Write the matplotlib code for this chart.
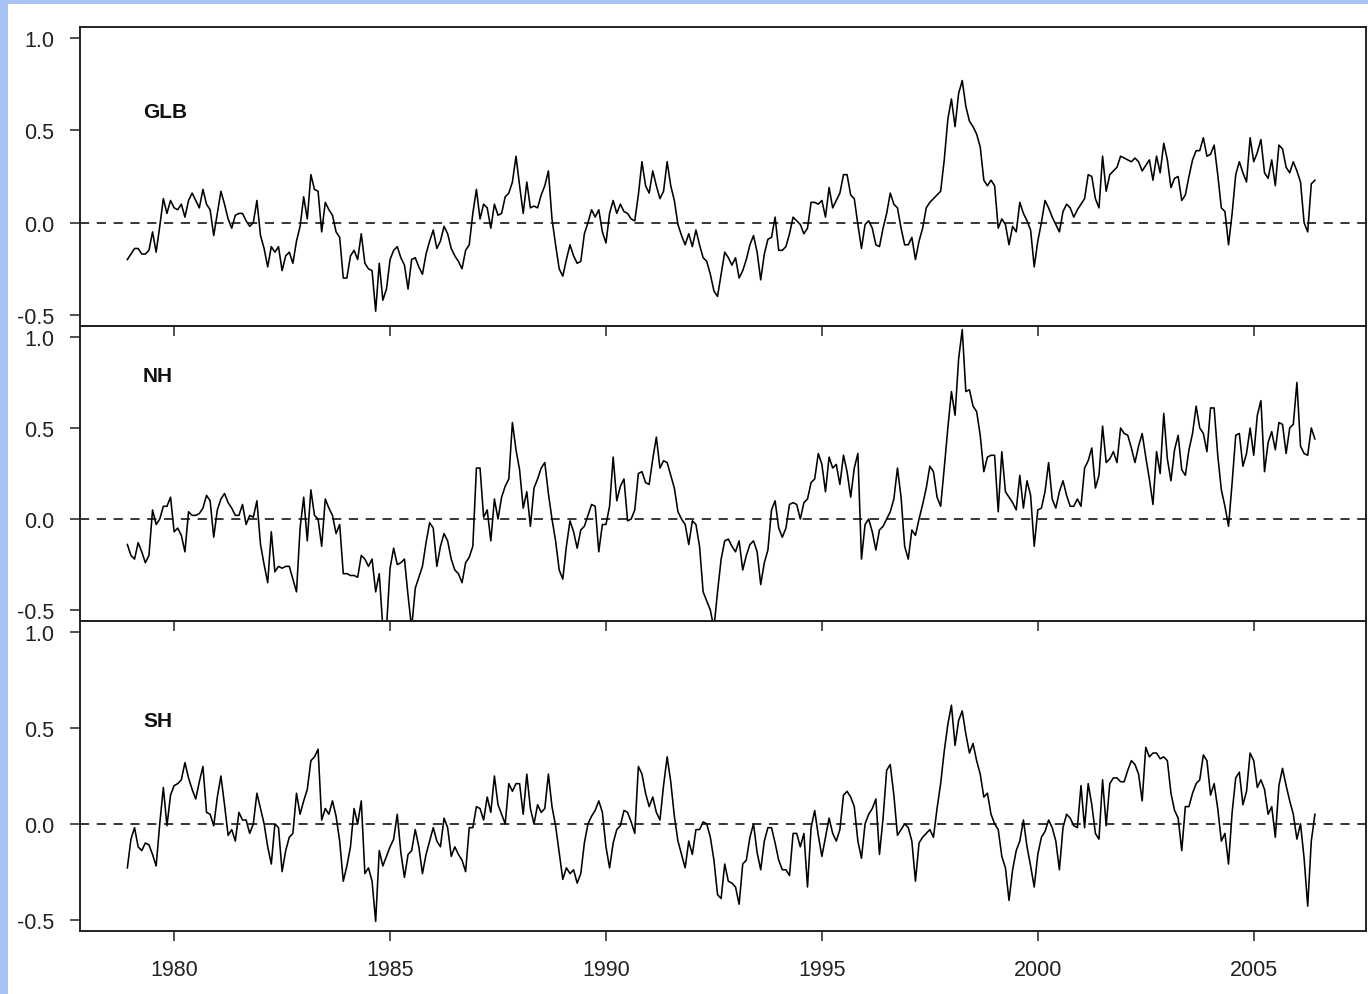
import numpy as np
import matplotlib
matplotlib.use('Agg')
import matplotlib.pyplot as plt
from matplotlib.patches import Rectangle
from matplotlib.ticker import FormatStrFormatter

plt.rcParams['font.family'] = ['Liberation Sans', 'DejaVu Sans']
plt.rcParams['axes.unicode_minus'] = False

# monthly anomalies, first value = Dec 1978
start = 1978 + 11 / 12.0

glb = [-0.20,
       -0.17, -0.14, -0.14, -0.17, -0.17, -0.15, -0.05, -0.16, -0.02, 0.13, 0.05, 0.12,
       0.08, 0.07, 0.10, 0.03, 0.12, 0.16, 0.12, 0.08, 0.18, 0.10, 0.07, -0.07,
       0.05, 0.17, 0.10, 0.02, -0.03, 0.04, 0.05, 0.05, 0.01, -0.02, 0.00, 0.12,
       -0.07, -0.14, -0.24, -0.13, -0.16, -0.13, -0.26, -0.18, -0.16, -0.22, -0.10, -0.02,
       0.14, 0.02, 0.26, 0.18, 0.17, -0.05, 0.11, 0.07, 0.04, -0.05, -0.08, -0.30,
       -0.30, -0.18, -0.15, -0.20, -0.06, -0.22, -0.25, -0.26, -0.48, -0.22, -0.42, -0.36,
       -0.20, -0.15, -0.13, -0.19, -0.23, -0.36, -0.20, -0.19, -0.24, -0.28, -0.17, -0.10,
       -0.04, -0.14, -0.10, -0.02, -0.06, -0.14, -0.18, -0.21, -0.25, -0.15, -0.12, 0.05,
       0.18, 0.02, 0.10, 0.08, -0.03, 0.10, 0.04, 0.05, 0.14, 0.16, 0.22, 0.36,
       0.20, 0.05, 0.22, 0.08, 0.09, 0.08, 0.15, 0.20, 0.28, 0.02, -0.12, -0.25,
       -0.29, -0.20, -0.12, -0.18, -0.22, -0.21, -0.06, 0.00, 0.07, 0.03, 0.07, -0.05,
       -0.11, 0.05, 0.12, 0.05, 0.10, 0.06, 0.05, 0.02, 0.01, 0.15, 0.33, 0.20,
       0.16, 0.28, 0.20, 0.13, 0.17, 0.33, 0.20, 0.12, -0.01, -0.07, -0.12, -0.06,
       -0.13, -0.04, -0.12, -0.19, -0.21, -0.28, -0.37, -0.40, -0.28, -0.16, -0.19, -0.23,
       -0.19, -0.30, -0.26, -0.20, -0.12, -0.07, -0.16, -0.31, -0.17, -0.09, -0.08, 0.03,
       -0.15, -0.15, -0.13, -0.06, 0.03, 0.01, -0.01, -0.06, -0.03, 0.11, 0.11, 0.10,
       0.12, 0.03, 0.19, 0.08, 0.12, 0.16, 0.26, 0.26, 0.15, 0.13, -0.01, -0.14,
       -0.01, 0.01, -0.03, -0.12, -0.13, -0.03, 0.05, 0.16, 0.10, 0.08, -0.03, -0.12,
       -0.12, -0.08, -0.20, -0.10, -0.03, 0.08, 0.11, 0.13, 0.15, 0.17, 0.34, 0.56,
       0.67, 0.52, 0.70, 0.77, 0.63, 0.55, 0.52, 0.48, 0.41, 0.23, 0.20, 0.23,
       0.20, -0.03, 0.02, -0.01, -0.12, -0.02, -0.05, 0.11, 0.05, 0.01, -0.04, -0.24,
       -0.10, 0.00, 0.12, 0.08, 0.03, -0.01, -0.05, 0.06, 0.10, 0.08, 0.03, 0.07,
       0.10, 0.13, 0.26, 0.25, 0.13, 0.08, 0.36, 0.17, 0.26, 0.28, 0.30, 0.36,
       0.35, 0.34, 0.33, 0.35, 0.33, 0.28, 0.31, 0.34, 0.23, 0.36, 0.27, 0.43,
       0.34, 0.19, 0.24, 0.25, 0.12, 0.15, 0.25, 0.34, 0.39, 0.39, 0.46, 0.36,
       0.37, 0.42, 0.26, 0.08, 0.06, -0.12, 0.05, 0.26, 0.33, 0.27, 0.22, 0.46,
       0.33, 0.38, 0.45, 0.27, 0.24, 0.34, 0.20, 0.42, 0.40, 0.30, 0.27, 0.33,
       0.28, 0.22, 0.00, -0.05, 0.21, 0.23]

nh = [-0.14,
      -0.20, -0.22, -0.13, -0.18, -0.24, -0.20, 0.05, -0.03, 0.00, 0.07, 0.07, 0.12,
      -0.07, -0.05, -0.09, -0.18, 0.04, 0.02, 0.02, 0.03, 0.06, 0.13, 0.10, -0.10,
      0.05, 0.11, 0.14, 0.09, 0.06, 0.02, 0.02, 0.08, -0.03, 0.02, 0.01, 0.10,
      -0.14, -0.25, -0.35, -0.07, -0.29, -0.26, -0.27, -0.26, -0.26, -0.33, -0.40, -0.05,
      0.12, -0.12, 0.16, 0.02, 0.00, -0.15, 0.11, 0.06, 0.02, -0.08, -0.03, -0.30,
      -0.30, -0.31, -0.31, -0.32, -0.20, -0.22, -0.26, -0.22, -0.40, -0.30, -0.60, -0.60,
      -0.27, -0.16, -0.25, -0.24, -0.22, -0.42, -0.60, -0.38, -0.32, -0.26, -0.13, -0.02,
      -0.05, -0.26, -0.15, -0.08, -0.12, -0.22, -0.28, -0.30, -0.35, -0.24, -0.21, -0.15,
      0.28, 0.28, 0.01, 0.05, -0.12, 0.11, 0.00, 0.12, 0.18, 0.22, 0.53, 0.38,
      0.27, 0.06, 0.15, -0.04, 0.17, 0.22, 0.28, 0.31, 0.14, 0.00, -0.12, -0.28,
      -0.33, -0.15, -0.01, -0.07, -0.16, -0.06, -0.04, 0.02, 0.08, 0.07, -0.18, -0.03,
      -0.03, 0.07, 0.34, 0.10, 0.18, 0.22, -0.01, 0.00, 0.05, 0.25, 0.26, 0.20,
      0.19, 0.33, 0.45, 0.28, 0.32, 0.31, 0.24, 0.17, 0.04, 0.00, -0.03, -0.14,
      -0.01, -0.03, -0.15, -0.40, -0.45, -0.50, -0.60, -0.40, -0.22, -0.12, -0.11, -0.15,
      -0.18, -0.12, -0.28, -0.20, -0.14, -0.12, -0.18, -0.36, -0.24, -0.17, 0.05, 0.10,
      -0.05, -0.10, -0.05, 0.08, 0.09, 0.08, 0.00, 0.09, 0.11, 0.20, 0.22, 0.36,
      0.30, 0.15, 0.34, 0.28, 0.30, 0.19, 0.35, 0.26, 0.12, 0.28, 0.36, -0.22,
      -0.03, 0.00, -0.07, -0.17, -0.06, -0.04, 0.00, 0.04, 0.11, 0.28, 0.12, -0.15,
      -0.22, -0.06, -0.09, 0.00, 0.08, 0.17, 0.29, 0.26, 0.12, 0.07, 0.28, 0.50,
      0.70, 0.57, 0.88, 1.04, 0.70, 0.71, 0.62, 0.59, 0.46, 0.26, 0.34, 0.35,
      0.35, 0.04, 0.37, 0.15, 0.12, 0.09, 0.05, 0.24, 0.06, 0.21, 0.13, -0.15,
      0.05, 0.06, 0.15, 0.31, 0.11, 0.06, 0.15, 0.21, 0.13, 0.07, 0.07, 0.11,
      0.07, 0.28, 0.32, 0.39, 0.17, 0.24, 0.51, 0.31, 0.33, 0.37, 0.31, 0.50,
      0.47, 0.46, 0.39, 0.31, 0.40, 0.47, 0.34, 0.22, 0.08, 0.37, 0.25, 0.58,
      0.33, 0.21, 0.38, 0.46, 0.27, 0.24, 0.38, 0.47, 0.62, 0.50, 0.47, 0.37,
      0.61, 0.61, 0.35, 0.16, 0.07, -0.04, 0.20, 0.46, 0.47, 0.29, 0.36, 0.50,
      0.35, 0.57, 0.65, 0.26, 0.42, 0.48, 0.38, 0.53, 0.52, 0.36, 0.50, 0.52,
      0.75, 0.40, 0.36, 0.35, 0.50, 0.44]

sh = [-0.23,
      -0.08, -0.02, -0.12, -0.14, -0.10, -0.11, -0.16, -0.22, 0.00, 0.19, -0.01, 0.15,
      0.20, 0.21, 0.23, 0.32, 0.24, 0.18, 0.13, 0.22, 0.30, 0.06, 0.05, -0.01,
      0.14, 0.25, 0.10, -0.06, -0.03, -0.09, 0.06, 0.02, 0.02, -0.05, 0.00, 0.16,
      0.08, 0.00, -0.12, -0.21, 0.00, -0.02, -0.25, -0.14, -0.07, -0.05, 0.16, 0.05,
      0.12, 0.18, 0.33, 0.35, 0.39, 0.02, 0.08, 0.05, 0.12, 0.04, -0.09, -0.30,
      -0.22, -0.12, 0.08, 0.00, 0.12, -0.26, -0.23, -0.30, -0.51, -0.14, -0.22, -0.17,
      -0.12, -0.08, 0.05, -0.15, -0.28, -0.16, -0.14, -0.03, -0.12, -0.26, -0.16, -0.09,
      -0.02, -0.09, -0.12, 0.03, -0.02, -0.17, -0.12, -0.16, -0.19, -0.25, -0.02, -0.02,
      0.09, 0.08, 0.02, 0.14, 0.06, 0.25, 0.10, 0.05, 0.00, 0.21, 0.17, 0.21,
      0.21, 0.05, 0.26, 0.08, 0.00, 0.10, 0.06, 0.08, 0.26, 0.09, -0.01, -0.15,
      -0.29, -0.23, -0.26, -0.24, -0.31, -0.26, -0.10, 0.00, 0.04, 0.07, 0.12, 0.06,
      -0.12, -0.23, -0.10, -0.03, -0.01, 0.07, 0.06, 0.01, -0.05, 0.30, 0.26, 0.16,
      0.09, 0.14, 0.06, 0.02, 0.20, 0.35, 0.22, 0.04, -0.09, -0.16, -0.23, -0.09,
      -0.16, -0.03, -0.03, 0.01, 0.00, -0.07, -0.19, -0.37, -0.39, -0.21, -0.30, -0.31,
      -0.33, -0.42, -0.21, -0.19, -0.07, 0.00, -0.15, -0.24, -0.09, -0.02, -0.02, -0.10,
      -0.19, -0.24, -0.24, -0.27, -0.05, -0.05, -0.12, -0.05, -0.33, -0.02, 0.07, -0.06,
      -0.17, -0.07, 0.03, -0.05, -0.09, -0.03, 0.15, 0.17, 0.14, 0.09, -0.09, -0.18,
      0.00, 0.05, 0.08, 0.13, -0.16, 0.03, 0.28, 0.31, 0.15, -0.06, -0.03, 0.00,
      -0.02, -0.09, -0.30, -0.10, -0.07, -0.05, -0.03, -0.07, 0.08, 0.21, 0.38, 0.52,
      0.62, 0.41, 0.54, 0.59, 0.47, 0.37, 0.42, 0.33, 0.26, 0.14, 0.16, 0.05,
      0.00, -0.03, -0.17, -0.23, -0.40, -0.24, -0.14, -0.09, 0.02, -0.12, -0.22, -0.33,
      -0.16, -0.07, -0.04, 0.02, -0.02, -0.09, -0.24, -0.02, 0.05, 0.03, -0.01, -0.02,
      0.20, -0.02, 0.21, 0.10, -0.05, -0.08, 0.23, -0.01, 0.21, 0.24, 0.24, 0.22,
      0.22, 0.28, 0.33, 0.31, 0.26, 0.12, 0.40, 0.35, 0.37, 0.37, 0.34, 0.35,
      0.33, 0.16, 0.07, 0.03, -0.14, 0.09, 0.09, 0.16, 0.21, 0.23, 0.36, 0.33,
      0.15, 0.21, 0.08, -0.09, -0.05, -0.21, 0.06, 0.24, 0.27, 0.10, 0.17, 0.37,
      0.33, 0.19, 0.23, 0.18, 0.05, 0.09, -0.07, 0.20, 0.29, 0.20, 0.12, 0.05,
      -0.08, 0.00, -0.18, -0.43, -0.09, 0.05]

names = ['GLB', 'NH', 'SH']
label_y = [0.60, 0.79, 0.54]
year_ticks = [1980, 1985, 1990, 1995, 2000, 2005]
y_ticks = [-0.5, 0.0, 0.5, 1.0]

W, H = 1368, 995
fig = plt.figure(figsize=(W / 100, H / 100), dpi=100, facecolor='#a6c2f3')
# white slide area, blue strip left and top
fig.add_artist(Rectangle((8 / W, 0), 1, 1 - 5 / H, transform=fig.transFigure,
                         facecolor='white', edgecolor='none', zorder=-10))

# panel edges in pixels (top, bottom)
edges = [(28, 327), (327, 622), (622, 932)]
left, right = 80, 1366

for i, vals in enumerate([glb, nh, sh]):
    top, bot = edges[i]
    ax = fig.add_axes([left / W, 1 - bot / H, (right - left) / W, (bot - top) / H])
    ax.set_facecolor('none')
    t = start + np.arange(len(vals)) / 12.0
    ax.plot(t, vals, color='black', lw=1.15)
    ax.axhline(0, color='black', lw=1.1, ls=(0, (6, 5)))
    ax.set_xlim(1977.82, 2007.6)
    ax.set_ylim(-0.56, 1.06)
    ax.set_xticks(year_ticks)
    ax.set_yticks(y_ticks)
    ax.yaxis.set_major_formatter(FormatStrFormatter('%.1f'))
    ax.tick_params(direction='out', length=7.5, width=1.1, color='#222',
                   labelsize=15.5, labelcolor='#222')
    ax.tick_params(axis='y', pad=11)
    ax.tick_params(axis='x', pad=13, labelbottom=(i == 2))
    for s in ax.spines.values():
        s.set_linewidth(1.4)
        s.set_color('#222')
    ax.text(1979.28, label_y[i], names[i], fontsize=15, fontweight='bold',
            ha='left', va='center', color='#111')

fig.savefig('out.png', dpi=100, facecolor=fig.get_facecolor())
